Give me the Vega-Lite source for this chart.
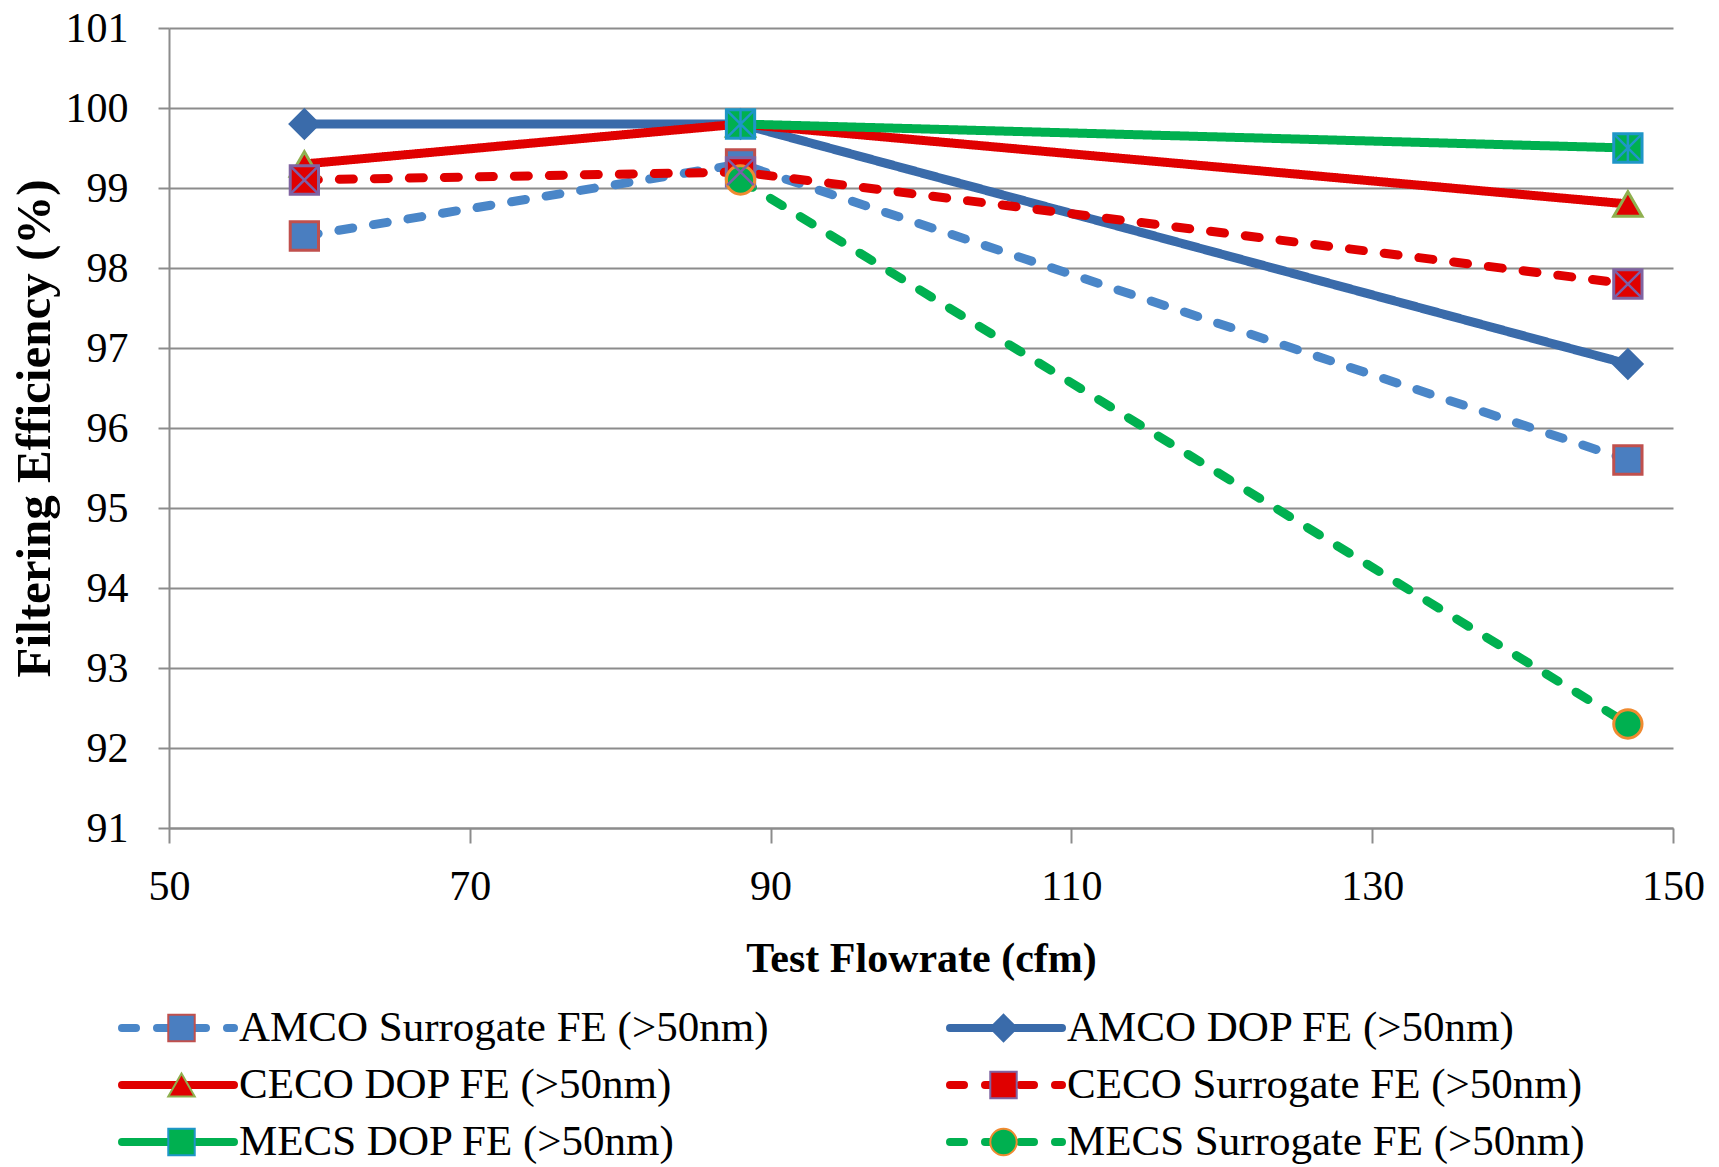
{
  "$schema": "https://vega.github.io/schema/vega-lite/v6.json",
  "autosize": "none",
  "width": 1504,
  "height": 800,
  "padding": {"left": 169, "top": 28, "right": 46, "bottom": 339},
  "background": "white",
  "config": {
    "view": {"stroke": null},
    "font": "Liberation Serif",
    "axis": {"labelFont": "Liberation Serif", "titleFont": "Liberation Serif", "labelColor": "#000000", "titleColor": "#000000"},
    "legend": {"labelFont": "Liberation Serif", "labelColor": "#000000"}
  },
  "data": {
    "values": [
      {"series": "AMCO Surrogate FE (>50nm)", "flow": 59, "fe": 98.4},
      {"series": "AMCO Surrogate FE (>50nm)", "flow": 88, "fe": 99.3},
      {"series": "AMCO Surrogate FE (>50nm)", "flow": 147, "fe": 95.6},
      {"series": "AMCO DOP FE (>50nm)", "flow": 59, "fe": 99.8},
      {"series": "AMCO DOP FE (>50nm)", "flow": 88, "fe": 99.8},
      {"series": "AMCO DOP FE (>50nm)", "flow": 147, "fe": 96.8},
      {"series": "CECO DOP FE (>50nm)", "flow": 59, "fe": 99.3},
      {"series": "CECO DOP FE (>50nm)", "flow": 88, "fe": 99.8},
      {"series": "CECO DOP FE (>50nm)", "flow": 147, "fe": 98.8},
      {"series": "CECO Surrogate FE (>50nm)", "flow": 59, "fe": 99.1},
      {"series": "CECO Surrogate FE (>50nm)", "flow": 88, "fe": 99.2},
      {"series": "CECO Surrogate FE (>50nm)", "flow": 147, "fe": 97.8},
      {"series": "MECS DOP FE (>50nm)", "flow": 88, "fe": 99.8},
      {"series": "MECS DOP FE (>50nm)", "flow": 147, "fe": 99.5},
      {"series": "MECS Surrogate FE (>50nm)", "flow": 88, "fe": 99.1},
      {"series": "MECS Surrogate FE (>50nm)", "flow": 147, "fe": 92.3}
    ]
  },
  "encoding": {
    "x": {
      "field": "flow", "type": "quantitative",
      "scale": {"domain": [50, 150], "nice": false, "zero": false},
      "axis": {
        "title": "Test Flowrate (cfm)", "values": [50, 70, 90, 110, 130, 150],
        "grid": false, "domainColor": "#8c8c8c", "domainWidth": 2,
        "tickColor": "#8c8c8c", "tickWidth": 2, "tickSize": 15,
        "labelFontSize": 42, "labelPadding": 23, "labelFlush": false,
        "titleFontSize": 42, "titleFontWeight": "bold", "titlePadding": 31
      }
    },
    "y": {
      "field": "fe", "type": "quantitative",
      "scale": {"domain": [91, 101], "nice": false, "zero": false},
      "axis": {
        "title": "Filtering Efficiency (%)", "values": [91, 92, 93, 94, 95, 96, 97, 98, 99, 100, 101],
        "grid": true, "gridColor": "#8c8c8c", "gridWidth": 2,
        "domainColor": "#8c8c8c", "domainWidth": 2,
        "tickColor": "#8c8c8c", "tickWidth": 2, "tickSize": 11,
        "labelFontSize": 42, "labelPadding": 30,
        "titleFontSize": 49, "titleFontWeight": "bold", "titlePadding": 6
      }
    }
  },
  "layer": [
    {
      "mark": {"type": "line", "strokeWidth": 9, "strokeCap": "round"},
      "encoding": {
        "color": {
          "field": "series", "type": "nominal",
          "sort": ["AMCO Surrogate FE (>50nm)", "AMCO DOP FE (>50nm)", "CECO DOP FE (>50nm)", "CECO Surrogate FE (>50nm)", "MECS DOP FE (>50nm)", "MECS Surrogate FE (>50nm)"],
          "scale": {"range": ["#4a86c8", "#3a6baa", "#e00000", "#e00000", "#00b050", "#00b050"]},
          "legend": null
        },
        "strokeDash": {
          "field": "series", "type": "nominal",
          "sort": ["AMCO Surrogate FE (>50nm)", "AMCO DOP FE (>50nm)", "CECO DOP FE (>50nm)", "CECO Surrogate FE (>50nm)", "MECS DOP FE (>50nm)", "MECS Surrogate FE (>50nm)"],
          "scale": {"range": [[14, 21], [1, 0], [1, 0], [14, 21], [1, 0], [14, 21]]},
          "legend": {
            "title": null, "orient": "none", "direction": "horizontal", "legendX": -51, "legendY": 973, "padding": 0,
            "columns": 2, "columnPadding": 177, "rowPadding": 3, "clipHeight": 54,
            "symbolType": "stroke", "symbolSize": 12544, "symbolStrokeWidth": 8,
            "labelFontSize": 43, "labelOffset": 1, "labelLimit": 0,
            "encode": {"symbols": {"update": {"strokeCap": {"value": "round"}, "stroke": {"scale": "color", "field": "value"}}}}
          }
        }
      }
    },
    {
      "mark": {"type": "point", "filled": true, "opacity": 1, "strokeWidth": 3, "size": 800},
      "encoding": {
        "shape": {
          "field": "series", "type": "nominal",
          "scale": {
            "domain": ["AMCO Surrogate FE (>50nm)", "AMCO DOP FE (>50nm)", "CECO DOP FE (>50nm)", "CECO Surrogate FE (>50nm)", "MECS DOP FE (>50nm)", "MECS Surrogate FE (>50nm)"],
            "range": ["square", "diamond", "triangle-up", "square", "square", "circle"]
          },
          "legend": {
            "title": null, "orient": "none", "direction": "horizontal", "legendX": -51, "legendY": 973, "padding": 0,
            "columns": 2, "columnPadding": 650, "rowPadding": 3, "clipHeight": 54,
            "symbolSize": 700, "symbolOffset": 42, "symbolStrokeWidth": 2,
            "labelFontSize": 43, "labelOffset": 87, "labelLimit": 0, "labelExpr": "''"
          }
        },
        "fill": {
          "field": "series", "type": "nominal",
          "scale": {
            "domain": ["AMCO Surrogate FE (>50nm)", "AMCO DOP FE (>50nm)", "CECO DOP FE (>50nm)", "CECO Surrogate FE (>50nm)", "MECS DOP FE (>50nm)", "MECS Surrogate FE (>50nm)"],
            "range": ["#4a7ec0", "#3a6baa", "#e00000", "#e00000", "#00b050", "#00b050"]
          },
          "legend": {
            "title": null, "orient": "none", "direction": "horizontal", "legendX": -51, "legendY": 973, "padding": 0,
            "columns": 2, "columnPadding": 650, "rowPadding": 3, "clipHeight": 54,
            "symbolSize": 700, "symbolOffset": 42, "symbolStrokeWidth": 2,
            "labelFontSize": 43, "labelOffset": 87, "labelLimit": 0, "labelExpr": "''"
          }
        },
        "stroke": {
          "field": "series", "type": "nominal",
          "scale": {
            "domain": ["AMCO Surrogate FE (>50nm)", "AMCO DOP FE (>50nm)", "CECO DOP FE (>50nm)", "CECO Surrogate FE (>50nm)", "MECS DOP FE (>50nm)", "MECS Surrogate FE (>50nm)"],
            "range": ["#c0504d", "#3a6baa", "#8fb04f", "#8064a2", "#1f96c8", "#f08a30"]
          },
          "legend": {
            "title": null, "orient": "none", "direction": "horizontal", "legendX": -51, "legendY": 973, "padding": 0,
            "columns": 2, "columnPadding": 650, "rowPadding": 3, "clipHeight": 54,
            "symbolSize": 700, "symbolOffset": 42, "symbolStrokeWidth": 2,
            "labelFontSize": 43, "labelOffset": 87, "labelLimit": 0, "labelExpr": "''"
          }
        }
      }
    },
    {
      "transform": [{"filter": "datum.series == 'CECO Surrogate FE (>50nm)'"}],
      "mark": {"type": "point", "filled": false, "opacity": 1, "shape": "M-1,-1L1,1M-1,1L1,-1", "size": 700, "stroke": "#7b5fa8", "strokeWidth": 2.5}
    },
    {
      "transform": [{"filter": "datum.series == 'MECS DOP FE (>50nm)'"}],
      "mark": {"type": "point", "filled": false, "opacity": 1, "shape": "M-1,-1L1,1M-1,1L1,-1M0,-1.1L0,1.1", "size": 700, "stroke": "#1f96c8", "strokeWidth": 2.5}
    }
  ]
}
